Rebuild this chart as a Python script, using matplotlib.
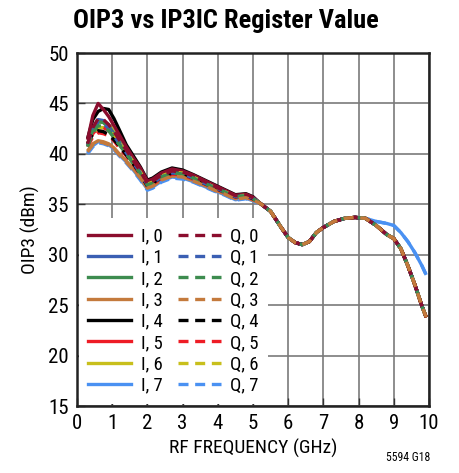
import matplotlib
matplotlib.use("Agg")
import matplotlib.pyplot as plt
from matplotlib import font_manager

# ---------------- data ----------------
freq_head = [0.3, 0.45, 0.6, 0.75, 0.9, 1.05, 1.2, 1.4, 1.6, 1.8, 2.0, 2.15, 2.4, 2.7,
             3.0, 3.3, 3.6, 3.9, 4.2, 4.5, 4.8, 5.0]
freq_tail = [5.2, 5.5, 5.8, 6.0, 6.2, 6.4, 6.6, 6.8, 7.0, 7.3, 7.6, 7.9, 8.2, 8.5,
             8.8, 9.0, 9.2, 9.4, 9.6, 9.8, 9.92]

tail_main = [35.1, 34.3, 32.7, 31.7, 31.2, 31.0, 31.3, 32.2, 32.7, 33.3, 33.6, 33.7,
             33.6, 32.9, 32.0, 31.6, 30.6, 28.9, 27.0, 24.9, 23.8]
tail_7 = [35.1, 34.3, 32.7, 31.7, 31.2, 31.0, 31.3, 32.2, 32.7, 33.3, 33.6, 33.7,
          33.6, 33.3, 33.1, 32.9, 32.2, 31.3, 30.2, 28.9, 28.0]

I0 = [41.4, 43.8, 45.0, 44.4, 43.7, 42.8, 41.9, 40.7, 39.6, 38.6, 37.3, 37.5, 38.1, 38.5, 38.3, 37.9, 37.4, 36.9, 36.4, 35.9, 36.0, 35.7]
Q0 = [41.0, 42.6, 43.5, 43.4, 42.9, 42.2, 41.4, 40.4, 39.3, 38.3, 37.0, 37.3, 37.9, 38.3, 38.2, 37.8, 37.3, 36.8, 36.3, 35.85, 35.95, 35.65]
I1 = [40.9, 42.5, 43.4, 43.3, 42.8, 42.0, 41.2, 40.2, 39.2, 38.2, 37.0, 37.2, 37.8, 38.2, 38.1, 37.7, 37.2, 36.7, 36.25, 35.8, 35.9, 35.6]
Q1 = [40.8, 42.3, 43.1, 43.0, 42.5, 41.8, 41.0, 40.1, 39.1, 38.1, 36.9, 37.1, 37.7, 38.1, 38.0, 37.6, 37.1, 36.7, 36.2, 35.75, 35.85, 35.6]
I2 = [40.9, 42.4, 43.2, 43.1, 42.6, 41.9, 41.1, 40.1, 39.1, 38.1, 36.9, 37.2, 37.8, 38.2, 38.1, 37.7, 37.2, 36.7, 36.25, 35.8, 35.9, 35.6]
Q2 = [40.7, 42.1, 42.8, 42.7, 42.3, 41.6, 40.9, 40.0, 39.0, 38.0, 36.9, 37.1, 37.7, 38.1, 38.0, 37.6, 37.1, 36.65, 36.2, 35.75, 35.85, 35.55]
I3 = [40.3, 41.0, 41.3, 41.2, 41.0, 40.6, 40.0, 39.3, 38.5, 37.6, 36.6, 36.8, 37.4, 37.8, 37.7, 37.35, 36.9, 36.45, 36.0, 35.55, 35.7, 35.4]
Q3 = [40.2, 40.9, 41.2, 41.1, 40.9, 40.5, 39.9, 39.2, 38.4, 37.6, 36.6, 36.8, 37.4, 37.8, 37.7, 37.3, 36.9, 36.4, 36.0, 35.5, 35.65, 35.4]
I4 = [41.5, 43.4, 44.2, 44.5, 44.4, 43.5, 42.4, 40.9, 39.8, 38.7, 37.4, 37.6, 38.2, 38.6, 38.4, 37.95, 37.45, 36.95, 36.45, 35.95, 36.05, 35.75]
Q4 = [41.0, 42.0, 42.3, 42.2, 41.9, 41.4, 40.8, 39.9, 39.0, 38.0, 36.8, 37.1, 37.7, 38.1, 38.0, 37.6, 37.1, 36.65, 36.2, 35.75, 35.85, 35.55]
I5 = [40.9, 42.0, 42.6, 42.6, 42.3, 41.7, 41.0, 40.0, 39.1, 38.1, 36.9, 37.2, 37.8, 38.2, 38.1, 37.7, 37.2, 36.7, 36.25, 35.8, 35.9, 35.6]
Q5 = [40.7, 41.7, 42.1, 42.0, 41.8, 41.3, 40.6, 39.8, 38.9, 37.9, 36.8, 37.0, 37.6, 38.0, 37.9, 37.5, 37.05, 36.6, 36.15, 35.7, 35.8, 35.5]
I6 = [41.0, 42.4, 43.1, 43.2, 42.9, 42.3, 41.5, 40.5, 39.4, 38.4, 37.1, 37.4, 38.0, 38.4, 38.2, 37.8, 37.3, 36.8, 36.3, 35.85, 35.95, 35.65]
Q6 = [40.8, 42.0, 42.6, 42.6, 42.4, 41.8, 41.1, 40.2, 39.2, 38.2, 37.0, 37.2, 37.8, 38.2, 38.1, 37.7, 37.2, 36.7, 36.25, 35.8, 35.9, 35.6]
I7 = [40.1, 40.8, 41.2, 41.1, 40.9, 40.5, 39.9, 39.2, 38.4, 37.5, 36.5, 36.7, 37.3, 37.7, 37.6, 37.25, 36.8, 36.35, 35.95, 35.45, 35.6, 35.35]
Q7 = [40.0, 40.7, 41.1, 41.0, 40.8, 40.4, 39.8, 39.1, 38.3, 37.4, 36.4, 36.6, 37.2, 37.6, 37.5, 37.2, 36.75, 36.3, 35.9, 35.4, 35.55, 35.3]

I_heads = [I0, I1, I2, I3, I4, I5, I6, I7]
Q_heads = [Q0, Q1, Q2, Q3, Q4, Q5, Q6, Q7]
register_values = [0, 1, 2, 3, 4, 5, 6, 7]
colors = ["#8b0d2e", "#3b5fb3", "#3d8c4f", "#c47a3c", "#000000", "#ee1c25", "#c8bf1c", "#4a91f2"]

x_ticks = [0, 1, 2, 3, 4, 5, 6, 7, 8, 9, 10]
y_ticks = [15, 20, 25, 30, 35, 40, 45, 50]

# ---------------- fonts ----------------
names = {f.name for f in font_manager.fontManager.ttflist}
narrow = "Liberation Sans Narrow" if "Liberation Sans Narrow" in names else "Roboto Condensed" if "Roboto Condensed" in names else "Liberation Sans"
plt.rcParams['font.family'] = [narrow, 'DejaVu Sans']

# ---------------- figure ----------------
fig = plt.figure(figsize=(4.60, 4.73), dpi=100)
ax = fig.add_axes([77/460, 1-406/473, (429-77)/460, (406-53)/473])

freq = freq_head + freq_tail
lines_I = []
lines_Q = []
# draw order so that the tail shows orange dashes over dark red / green
order = [7, 6, 5, 4, 1, 3, 2, 0]
for r in order:
    c, ih = colors[r], I_heads[r]
    tail = tail_7 if r == 7 else tail_main
    ax.plot(freq, ih + tail, color=c, lw=2.4, ls='-', solid_capstyle='butt', zorder=3)
for r in order:
    c, qh = colors[r], Q_heads[r]
    tail = tail_7 if r == 7 else tail_main
    z = 4.5 if r == 3 else 4
    ax.plot(freq, qh + tail, color=c, lw=2.4, ls=(0, (3, 2)), dash_capstyle='butt', zorder=z)

for r in register_values:
    li, = ax.plot([], [], color=colors[r], lw=2.4, ls='-', label=f"I, {r}")
    lines_I.append(li)
for r in register_values:
    lq, = ax.plot([], [], color=colors[r], lw=2.4, ls=(0, (3, 2)), label=f"Q, {r}")
    lines_Q.append(lq)

ax.set_xlim(0, 10)
ax.set_ylim(15, 50)
ax.set_xticks(x_ticks)
ax.set_yticks(y_ticks)
ax.grid(True, color="#7a7a7a", lw=1.2, zorder=0)
ax.set_axisbelow(True)
ax.tick_params(direction='in', length=6, width=1.0, color="#333333", labelsize=15,
               pad=6)
for s in ax.spines.values():
    s.set_linewidth(1.8)
    s.set_color("#222222")

ax.set_xlabel("RF FREQUENCY (GHz)", fontsize=14, labelpad=4)
ax.set_ylabel("OIP3 (dBm)", fontsize=14, labelpad=6)

fig.text(0.492, 0.955, "OIP3 vs IP3IC Register Value", ha='center', va='center',
         fontsize=19, fontweight='bold')
fig.text(0.935, 0.018, "5594 G18", ha='right', va='bottom', fontsize=8.5)

leg = ax.legend(handles=lines_I + lines_Q, ncol=2, loc='lower left',
                bbox_to_anchor=(0.0, 0.0), fontsize=13.5, frameon=True,
                framealpha=1.0, facecolor='white', edgecolor='none',
                handlelength=2.3, handletextpad=0.5, columnspacing=0.8,
                labelspacing=0.18, borderpad=0.5, borderaxespad=0.1)
leg.set_zorder(5)

fig.savefig("out.png", dpi=100)
